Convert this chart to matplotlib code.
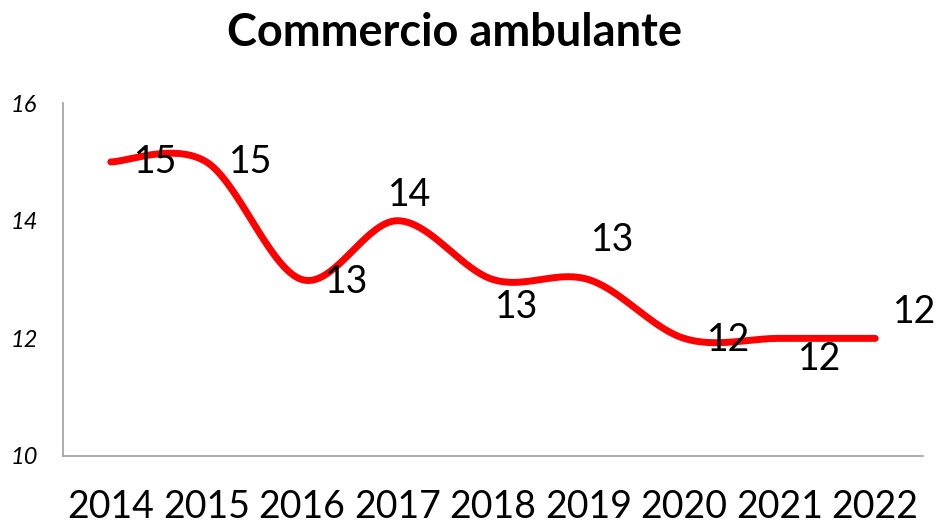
import numpy as np
import matplotlib.pyplot as plt

# === Data ===
years = ["2014", "2015", "2016", "2017", "2018", "2019", "2020", "2021", "2022"]
values = [15, 15, 13, 14, 13, 13, 12, 12, 12]

# label offsets in pixels (dx right, dy down), Excel-style placement
label_dx = [45, 44, 45, 12, 24, 24, 45, 40, 39]
label_dy = [0, 0, 2, -26, 27, -40, 2, 21, -26]


def smooth(xs, ys, n=40):
    # Bezier smoothing like Excel's "smoothed line"
    xs = np.asarray(xs, float)
    ys = np.asarray(ys, float)
    px = np.concatenate([[xs[0]], xs, [xs[-1]]])
    py = np.concatenate([[ys[0]], ys, [ys[-1]]])
    out_x, out_y = [], []
    t = np.linspace(0, 1, n)
    for i in range(1, len(px) - 2):
        p0 = np.array([px[i], py[i]])
        p3 = np.array([px[i + 1], py[i + 1]])
        c1 = p0 + (p3 - np.array([px[i - 1], py[i - 1]])) / 6
        c2 = p3 - (np.array([px[i + 2], py[i + 2]]) - p0) / 6
        b = ((1 - t) ** 3)[:, None] * p0 + (3 * (1 - t) ** 2 * t)[:, None] * c1 \
            + (3 * (1 - t) * t ** 2)[:, None] * c2 + (t ** 3)[:, None] * p3
        out_x.extend(b[:, 0])
        out_y.extend(b[:, 1])
    return out_x, out_y


plt.rcParams['font.family'] = ['Lato', 'DejaVu Sans']

fig = plt.figure(figsize=(9.38, 5.26), dpi=100)
ax = fig.add_axes([0.0672, 0.1331, 0.9168, 0.6709])

x = np.arange(len(years))
sx, sy = smooth(x, values)
ax.plot(sx, sy, color="#ff0000", lw=5, solid_capstyle="round")

for i, v in enumerate(values):
    ax.annotate(str(v), (x[i], v), xytext=(label_dx[i] * 0.72, -label_dy[i] * 0.72),
                textcoords="offset points", ha="center", va="center", fontsize=27)

ax.set_xlim(-0.5, len(years) - 0.5)
ax.set_ylim(10, 16)
ax.set_yticks([10, 12, 14, 16])
ax.set_yticklabels(["10", "12", "14", "16"], fontstyle="italic", fontsize=17)
ax.set_xticks(x)
ax.set_xticklabels(years, fontsize=27)
ax.tick_params(length=0)
ax.tick_params(axis="x", pad=24)
ax.tick_params(axis="y", pad=38)
for t in ax.get_yticklabels():
    t.set_horizontalalignment("left")

for s in ["top", "right"]:
    ax.spines[s].set_visible(False)
for s in ["left", "bottom"]:
    ax.spines[s].set_color("#a0a0a0")
    ax.spines[s].set_linewidth(1.2)

fig.text(0.485, 0.937, "Commercio ambulante", ha="center", va="center",
         fontsize=32.5, fontweight="bold")

fig.savefig("out.png", dpi=100)
